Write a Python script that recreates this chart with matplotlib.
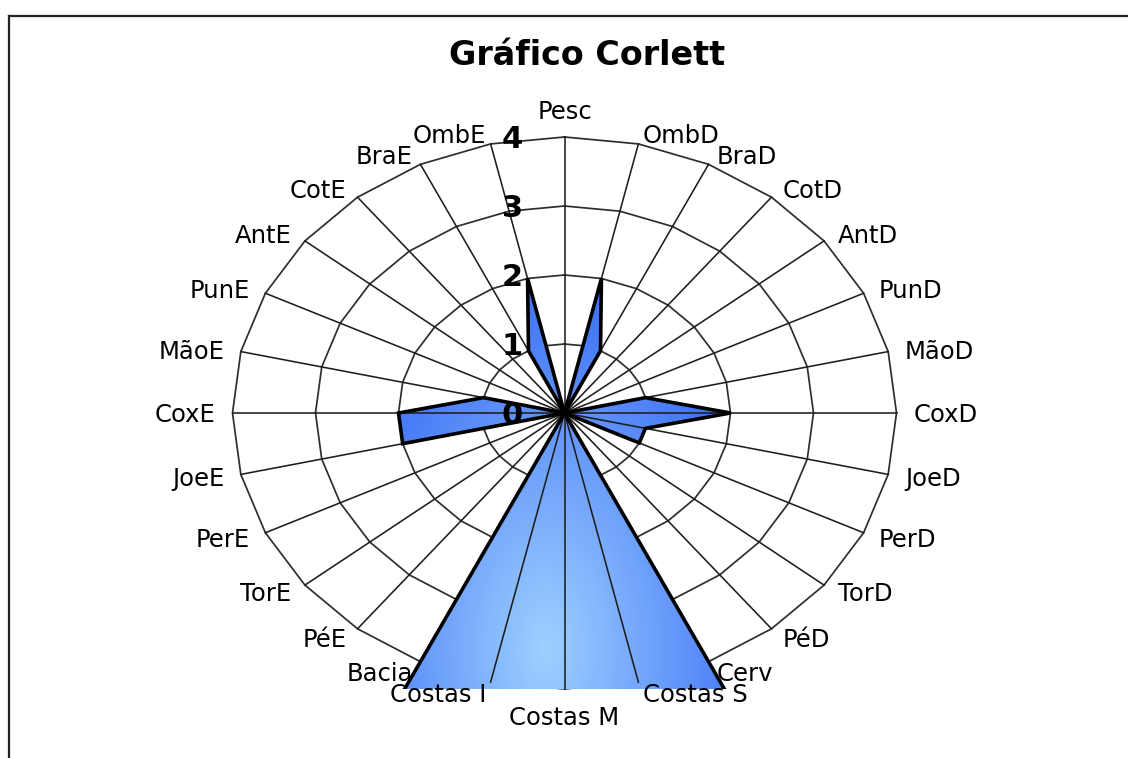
import numpy as np
import matplotlib
matplotlib.use('Agg')
import matplotlib.pyplot as plt
from matplotlib.patches import Polygon
from matplotlib.lines import Line2D

# ---------------- data ----------------
categories = ['Pesc', 'OmbD', 'BraD', 'CotD', 'AntD', 'PunD', 'MãoD', 'CoxD',
              'JoeD', 'PerD', 'TorD', 'PéD', 'Cerv', 'Costas S', 'Costas M',
              'Costas I', 'Bacia', 'PéE', 'TorE', 'PerE', 'JoeE', 'CoxE',
              'MãoE', 'PunE', 'AntE', 'CotE', 'BraE', 'OmbE']
values = [0, 2, 1, 0, 0, 0, 1, 2,
          1, 1, 0, 0, 5, 5, 5,
          5, 5, 0, 0, 0, 2, 2,
          1, 0, 0, 0, 1, 2]
tick_values = [0, 1, 2, 3, 4]
tick_labels = ['0', '1', '2', '3', '4']
title = 'Gráfico Corlett'

# ---------------- layout ----------------
W, H = 1128, 758
fig = plt.figure(figsize=(W / 100, H / 100), dpi=100)
fig.patch.set_facecolor('white')

cx, cy = 564.5, 413.0      # centre of radar in px
rx, ry = 332.0, 276.0      # outer ring radii in px
rmax = max(tick_values)
ax = fig.add_axes([(cx - rx) / W, (H - (cy + ry)) / H, 2 * rx / W, 2 * ry / H])
ax.axis('off')

n = len(categories)
theta = np.arange(n) * 2 * np.pi / n
sx, sy = np.sin(theta), np.cos(theta)

# rings (polygonal grid)
for r in tick_values[1:]:
    xs = np.append(r * sx, r * sx[0])
    ys = np.append(r * sy, r * sy[0])
    ax.plot(xs, ys, color='#2e2e2e', lw=1.25, zorder=1, clip_on=False)

# spokes (drawn over the fill)
for i in range(n):
    ax.plot([0, rmax * sx[i]], [0, rmax * sy[i]], color='#1e1e1e', lw=1.15,
            zorder=4, clip_on=False)

# series polygon with gradient fill
vals = np.array(values, dtype=float)
pts = np.column_stack([vals * sx, vals * sy])
clip_poly = Polygon(pts, closed=True, facecolor='none', edgecolor='none')
ax.add_patch(clip_poly)

nx_, ny_ = 400, 340
gx = np.linspace(-rmax, rmax, nx_)
gy = np.linspace(rmax, -rmax, ny_)
GX, GY = np.meshgrid(gx, gy)
PX = cx + GX * rx / rmax
PY = cy - GY * ry / rmax
t = np.clip(np.hypot((PX - 545) / 230.0, (PY - 650) / 390.0), 0, 1)
c0 = np.array([0.62, 0.82, 1.0])
c1 = np.array([0.22, 0.42, 0.96])
img = c0 + (c1 - c0) * t[..., None]
im = ax.imshow(img, extent=(-rmax, rmax, -rmax, rmax), origin='upper',
               aspect='auto', zorder=2, interpolation='bilinear')
im.set_clip_path(clip_poly)

ax.add_patch(Polygon(pts, closed=True, fill=False, edgecolor='black', lw=2.6,
                     zorder=5, joinstyle='miter'))

ax.set_xlim(-rmax, rmax)
ax.set_ylim(-rmax, rmax)

# category labels
for i, lab in enumerate(categories):
    s, c = sx[i], sy[i]
    if abs(s) < 1e-6:
        ha = 'center'
        dx, dy = 0.0, 27.0 * c
    else:
        ha = 'left' if s > 0 else 'right'
        dx, dy = 16.0 * s + np.sign(s) * 1.0, 11.0 * c
    ax.annotate(lab, xy=(rmax * s, rmax * c), xytext=(dx * 0.72, (dy - 2.4) * 0.72),
                textcoords='offset points', ha=ha, va='center', fontsize=17.5,
                color='black', annotation_clip=False, zorder=6)

# value axis labels
for v, tl in zip(tick_values, tick_labels):
    ax.annotate(tl, xy=(0, v), xytext=(-52 * 0.72, -2.5 * 0.72),
                textcoords='offset points', ha='center', va='center',
                fontsize=22, fontweight='bold', annotation_clip=False, zorder=7)

# title
fig.text(587 / W, 1 - 65 / H, title, ha='center', va='baseline',
         fontsize=24, fontweight='bold')

# chart border (partially outside the image)
fig.add_artist(Line2D([8.5 / W, 8.5 / W], [0, 1 - 15.5 / H], color='#222222', lw=1.6))
fig.add_artist(Line2D([8.5 / W, 1.0], [1 - 15.5 / H, 1 - 15.5 / H], color='#222222', lw=1.6))

fig.savefig('out.png', dpi=100)
